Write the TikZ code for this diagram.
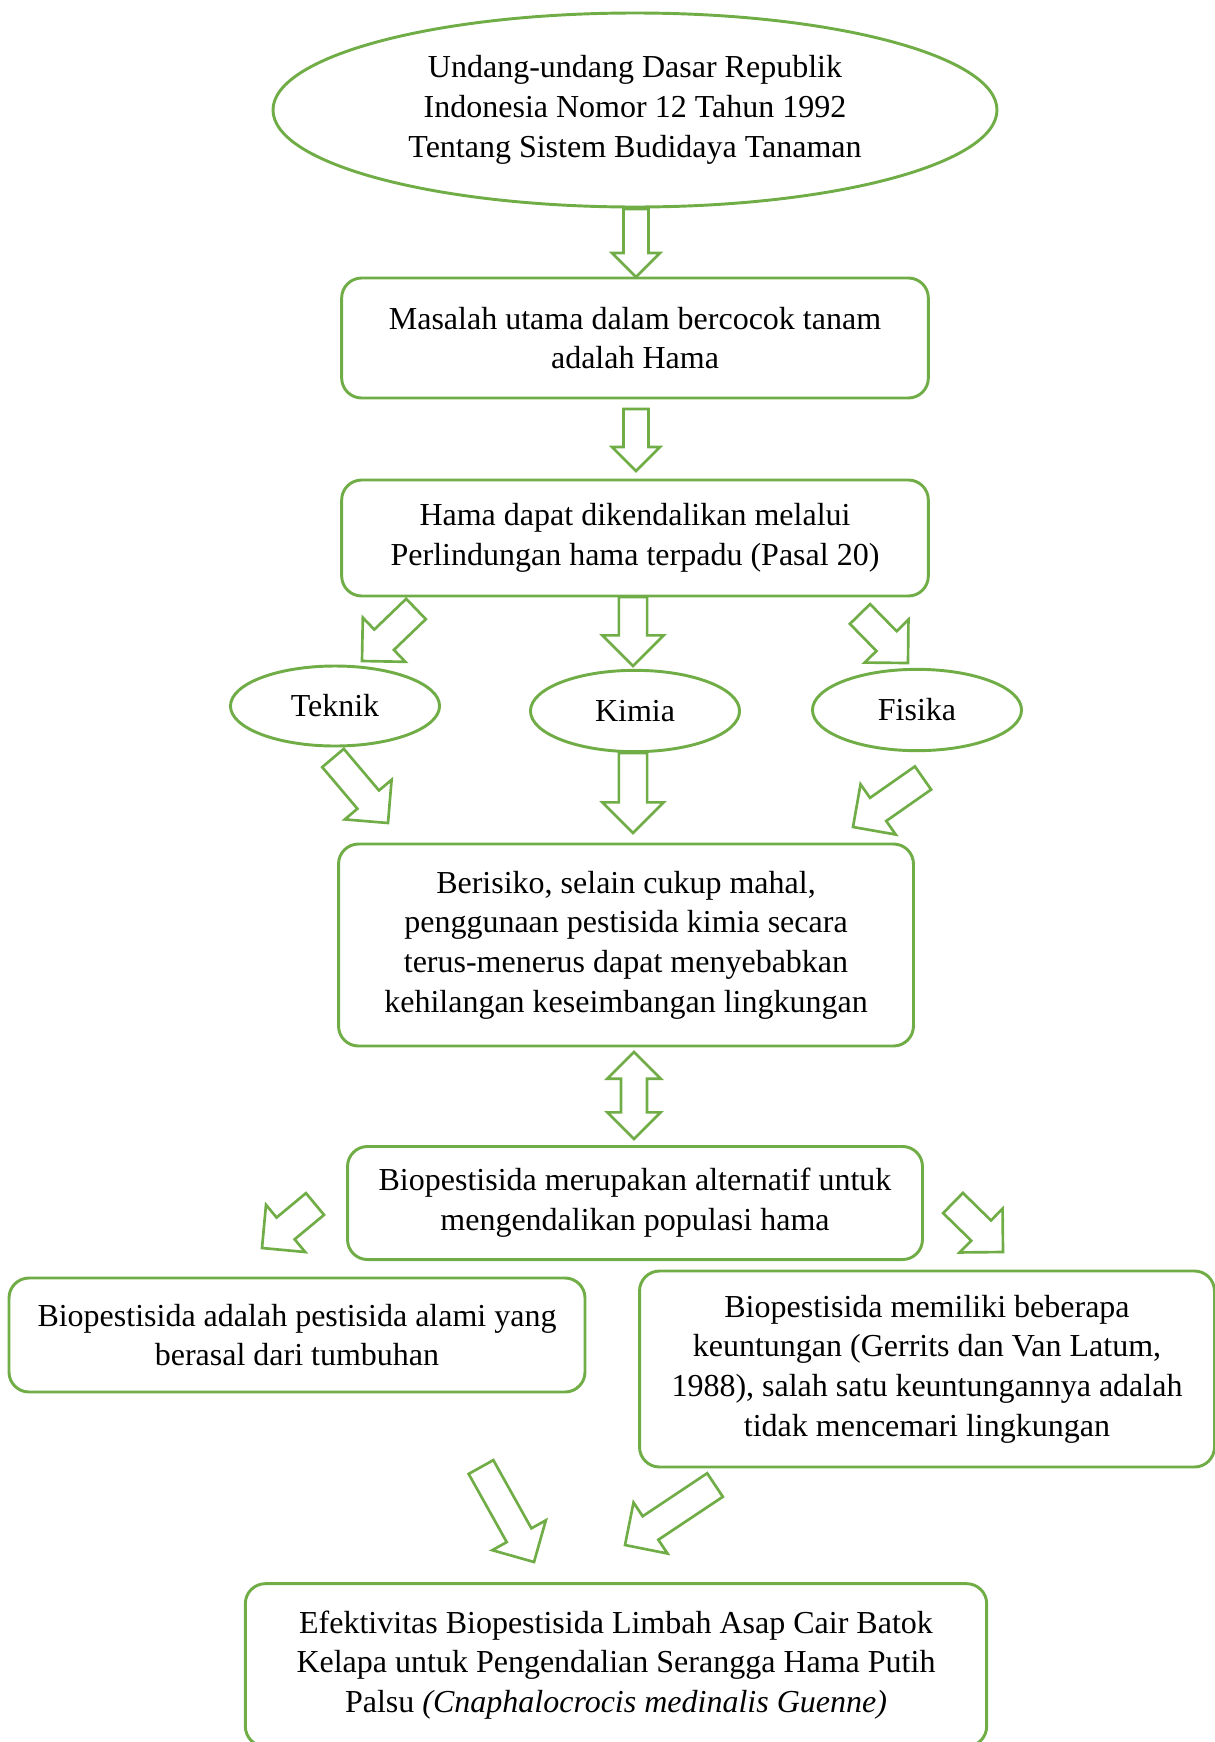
\documentclass[tikz,border=0pt]{standalone}
\usepackage{fontspec}
\setmainfont{Liberation Serif}
\usetikzlibrary{calc,shapes.geometric}
\definecolor{leaf}{RGB}{112,173,71}

% hollow block arrow: tail, tip, shaft half width, head size
\newcommand{\barrow}[4]{%
  \coordinate (hb) at ($(#2)!#4!(#1)$);
  \draw[blk] ($(#1)!#3!90:(#2)$) -- ($(hb)!#3!-90:(#1)$) -- ($(hb)!#4!-90:(#1)$) -- (#2)
    -- ($(hb)!#4!90:(#1)$) -- ($(hb)!#3!90:(#1)$) -- ($(#1)!#3!-90:(#2)$) -- cycle;}
\newcommand{\dbarrow}[4]{%
  \coordinate (ha) at ($(#1)!#4!(#2)$);
  \coordinate (hb) at ($(#2)!#4!(#1)$);
  \draw[blk] (#1) -- ($(ha)!#4!90:(#2)$) -- ($(ha)!#3!90:(#2)$) -- ($(hb)!#3!-90:(#1)$)
    -- ($(hb)!#4!-90:(#1)$) -- (#2) -- ($(hb)!#4!90:(#1)$) -- ($(hb)!#3!90:(#1)$)
    -- ($(ha)!#3!-90:(#2)$) -- ($(ha)!#4!-90:(#2)$) -- cycle;}

\begin{document}
\begin{tikzpicture}[
x=0.375pt,y=-0.375pt,
box/.style={draw=leaf,line width=1.1pt,rounded corners=7.5pt,align=center,inner sep=0pt,font=\fontsize{12}{14.9}\selectfont},
oval/.style={draw=leaf,line width=1.1pt,ellipse,align=center,inner sep=0pt,font=\fontsize{12}{14.9}\selectfont},
blk/.style={draw=leaf,line width=1pt,line join=miter}
]
\useasboundingbox (0,0) rectangle (1215,1742);

\node[oval,minimum width=271.5pt,minimum height=72.75pt] (uu) at (635,110) {Undang-undang Dasar Republik\\Indonesia Nomor 12 Tahun 1992\\Tentang Sistem Budidaya Tanaman};
\node[box,minimum width=220pt,minimum height=45pt] (masalah) at (635,338) {Masalah utama dalam bercocok tanam\\adalah Hama};
\node[box,minimum width=220pt,minimum height=43.5pt] (kendali) at (635,538) {Hama dapat dikendalikan melalui\\Perlindungan hama terpadu (Pasal 20)};
\node[oval,minimum width=78.4pt,minimum height=30pt] (teknik) at (335,706) {Teknik};
\node[oval,minimum width=78.4pt,minimum height=30.5pt] (kimia) at (635,711) {Kimia};
\node[oval,minimum width=78.4pt,minimum height=30.5pt] (fisika) at (917,710) {Fisika};
\node[box,minimum width=215.6pt,minimum height=75.75pt] (risiko) at (626,945) {Berisiko, selain cukup mahal,\\penggunaan pestisida kimia secara\\terus-menerus dapat menyebabkan\\kehilangan keseimbangan lingkungan};
\node[box,minimum width=215.6pt,minimum height=42.4pt] (alternatif) at (635,1203) {Biopestisida merupakan alternatif untuk\\mengendalikan populasi hama};
\node[box,minimum width=216pt,minimum height=42.75pt] (alami) at (297,1335) {Biopestisida adalah pestisida alami yang\\berasal dari tumbuhan};
\node[box,minimum width=215.6pt,minimum height=73.5pt] (untung) at (927,1369) {Biopestisida memiliki beberapa\\keuntungan (Gerrits dan Van Latum,\\1988), salah satu keuntungannya adalah\\tidak mencemari lingkungan};
\node[box,minimum width=278pt,minimum height=61pt] (efek) at (616,1665) {Efektivitas Biopestisida Limbah Asap Cair Batok\\Kelapa untuk Pengendalian Serangga Hama Putih\\Palsu \textit{(Cnaphalocrocis medinalis Guenne)}};

% block arrows
\coordinate (a1s) at (636,209); \coordinate (a1e) at (636,277);
\coordinate (a2s) at (636,409); \coordinate (a2e) at (636,471);
\coordinate (a3s) at (416,609); \coordinate (a3e) at (362,661);
\coordinate (a4s) at (633,597); \coordinate (a4e) at (633,666);
\coordinate (a5s) at (860,614); \coordinate (a5e) at (908,663);
\coordinate (a6s) at (333,758); \coordinate (a6e) at (388,823);
\coordinate (a7s) at (633,753); \coordinate (a7e) at (633,833);
\coordinate (a8s) at (923,778); \coordinate (a8e) at (853,827);
\coordinate (a9s) at (634,1052); \coordinate (a9e) at (634,1139);
\coordinate (a10s) at (315,1204); \coordinate (a10e) at (262,1248);
\coordinate (a11s) at (953,1203); \coordinate (a11e) at (1003,1252);
\coordinate (a12s) at (481,1467); \coordinate (a12e) at (534,1562);
\coordinate (a13s) at (715,1485); \coordinate (a13e) at (625,1545);

\barrow{a1s}{a1e}{4.7pt}{9pt}
\barrow{a2s}{a2e}{4.7pt}{9pt}
\barrow{a3s}{a3e}{5.3pt}{11.5pt}
\barrow{a4s}{a4e}{5.3pt}{11.5pt}
\barrow{a5s}{a5e}{5.3pt}{11.5pt}
\barrow{a6s}{a6e}{5.3pt}{11.5pt}
\barrow{a7s}{a7e}{5.3pt}{11.5pt}
\barrow{a8s}{a8e}{5.3pt}{11.5pt}
\dbarrow{a9s}{a9e}{4.9pt}{10pt}
\barrow{a10s}{a10e}{5.3pt}{11.5pt}
\barrow{a11s}{a11e}{5.3pt}{11.5pt}
\barrow{a12s}{a12e}{5.3pt}{11.5pt}
\barrow{a13s}{a13e}{5.3pt}{11.5pt}
\end{tikzpicture}
\end{document}
